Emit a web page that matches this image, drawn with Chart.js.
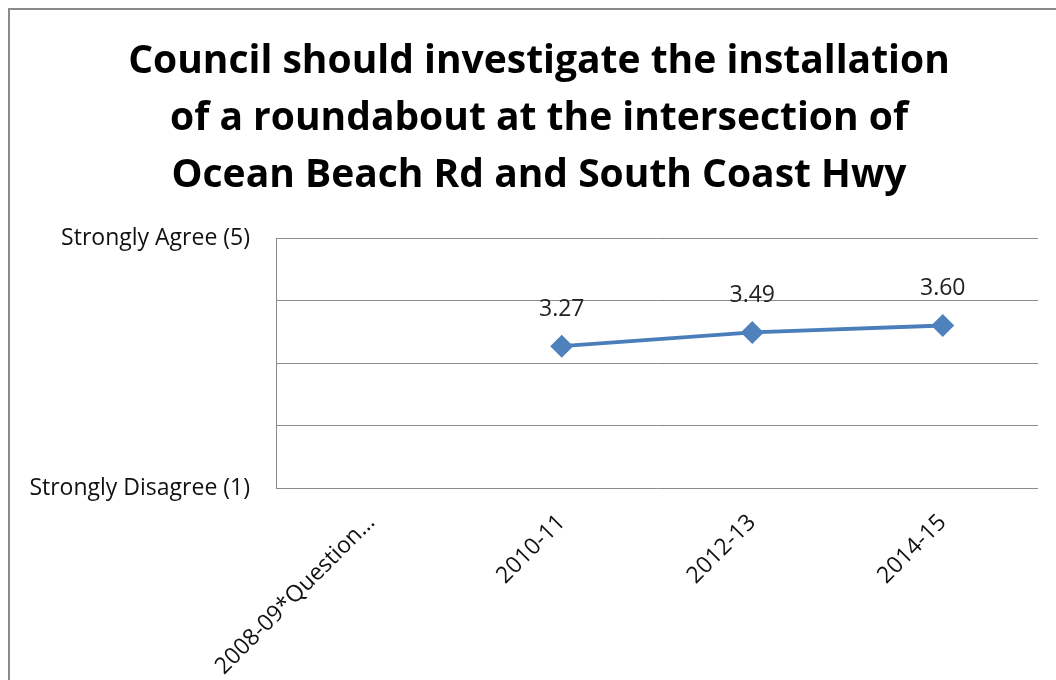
<!DOCTYPE html>
<html>
<head>
<meta charset="utf-8">
<script src="https://cdn.jsdelivr.net/npm/chart.js@4/dist/chart.umd.min.js"></script>
<style>
    html, body { margin: 0; padding: 0; background: #fff; overflow: hidden; }
    #wrap { position: relative; width: 1056px; height: 680px; }
</style>
</head>
<body>
<div id="wrap"><canvas id="surveyChart" width="1056" height="680"></canvas></div>
<script>
// survey periods and mean agreement score (2008-09 had no comparable question)
const periods = ['2008-09*Question\u2026', '2010-11', '2012-13', '2014-15'];
const meanScores = [null, 3.27, 3.49, 3.60];
const scaleLabels = { 1: 'Strongly Disagree (1)', 5: 'Strongly Agree (5)' };
const titleLines = [
    'Council should investigate the installation',
    'of a roundabout at the intersection of',
    'Ocean Beach Rd and South Coast Hwy'
];

const FONT = '"Open Sans", sans-serif';

// grey frame round the whole chart, plus the three-line heading
// (drawn by hand so it can sit centred on the frame rather than the plot)
const framePlugin = {
    id: 'frame',
    beforeDraw(chart) {
        const ctx = chart.ctx;
        ctx.save();
        ctx.strokeStyle = '#8a8a8a';
        ctx.lineWidth = 2;
        ctx.strokeRect(9, 9, 1200, 800);

        ctx.fillStyle = '#000';
        ctx.font = 'bold 39px ' + FONT;
        ctx.textAlign = 'center';
        ctx.textBaseline = 'middle';
        titleLines.forEach((line, i) => {
            ctx.fillText(line, 539, 61.5 + i * 57);
        });
        ctx.restore();
    }
};

// value printed above every marker
const valueLabels = {
    id: 'valueLabels',
    afterDatasetsDraw(chart) {
        const ctx = chart.ctx;
        const ds = chart.data.datasets[0];
        const meta = chart.getDatasetMeta(0);
        ctx.save();
        ctx.font = '23px ' + FONT;
        ctx.fillStyle = '#222';
        ctx.textAlign = 'center';
        ctx.textBaseline = 'middle';
        meta.data.forEach((pt, i) => {
            const v = ds.data[i];
            if (v == null) return;
            ctx.fillText(v.toFixed(2), pt.x, pt.y - 37);
        });
        ctx.restore();
    }
};

new Chart(document.getElementById('surveyChart').getContext('2d'), {
    type: 'line',
    data: {
        labels: periods,
        datasets: [{
            data: meanScores,
            borderColor: '#4a7ebb',
            backgroundColor: '#4f81bd',
            borderWidth: 4,
            pointStyle: 'rectRot',
            pointRadius: 11.5,
            pointBorderWidth: 0,
            pointBackgroundColor: '#4f81bd',
            tension: 0,
            spanGaps: false
        }]
    },
    options: {
        responsive: false,
        animation: false,
        layout: { padding: { left: 20, right: 18, top: 238, bottom: 0 } },
        plugins: {
            legend: { display: false },
            tooltip: { enabled: false },
            title: { display: false }
        },
        scales: {
            x: {
                offset: true,
                grid: { display: false, drawTicks: false },
                border: { display: false },
                ticks: {
                    color: '#111',
                    font: { family: FONT, size: 23 },
                    minRotation: 45,
                    maxRotation: 45,
                    padding: 21,
                    autoSkip: false
                },
                afterFit(scale) { scale.height = 192; }
            },
            y: {
                min: 1,
                max: 5,
                grid: { color: '#8c8c8c', lineWidth: 1, drawTicks: false },
                border: { display: true, color: '#8c8c8c', width: 1 },
                ticks: {
                    stepSize: 1,
                    color: '#111',
                    font: { family: FONT, size: 23 },
                    padding: 26,
                    callback: v => scaleLabels[v] || ''
                },
                afterFit(scale) { scale.width = 256; }
            }
        }
    },
    plugins: [framePlugin, valueLabels]
});
</script>
</body>
</html>
